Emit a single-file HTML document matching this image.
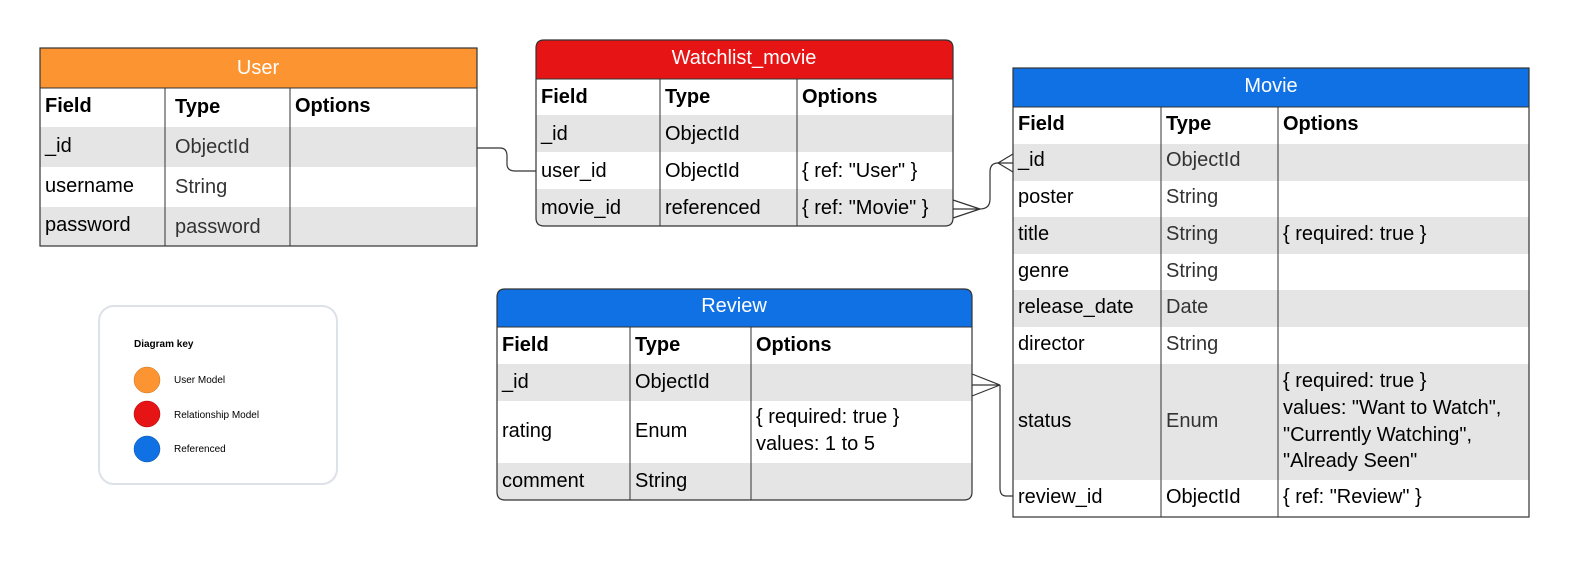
<!DOCTYPE html>
<html><head><meta charset="utf-8"><style>
html,body{margin:0;padding:0;background:#fff;}
svg text{font-family:"Liberation Sans",Arial,sans-serif;}
</style></head><body>
<svg width="1580" height="561" viewBox="0 0 1580 561" xmlns="http://www.w3.org/2000/svg">
<rect width="1580" height="561" fill="#fff"/>

<!-- USER -->
<g>
<rect x="40" y="48" width="437" height="40" fill="#FC9432"/>
<text x="258" y="74" font-size="20" fill="#fff" text-anchor="middle">User</text>
<rect x="40" y="127" width="437" height="40" fill="#E5E5E5"/>
<rect x="40" y="207" width="437" height="39" fill="#E5E5E5"/>
<rect x="40" y="48" width="437" height="198" fill="none" stroke="#333" stroke-width="1.2"/>
<line x1="40" y1="88" x2="477" y2="88" stroke="#333"/>
<line x1="165" y1="88" x2="165" y2="246" stroke="#333"/>
<line x1="290" y1="88" x2="290" y2="246" stroke="#333"/>
<g font-size="20" fill="#000">
<text x="45" y="112" font-weight="bold">Field</text>
<text x="175" y="113" font-weight="bold">Type</text>
<text x="295" y="112" font-weight="bold">Options</text>
<text x="45" y="152">_id</text>
<text x="45" y="192">username</text>
<text x="45" y="231">password</text>
</g>
<g font-size="20" fill="#333">
<text x="175" y="153">ObjectId</text>
<text x="175" y="193">String</text>
<text x="175" y="233">password</text>
</g>
</g>

<!-- WATCHLIST -->
<g>
<path d="M536,79 V48 Q536,40 544,40 H945 Q953,40 953,48 V79 Z" fill="#E61414"/>
<text x="744" y="64" font-size="20" fill="#fff" text-anchor="middle">Watchlist_movie</text>
<rect x="536" y="115" width="417" height="37" fill="#E5E5E5"/>
<path d="M536,189 H953 V218 Q953,226 945,226 H544 Q536,226 536,218 Z" fill="#E5E5E5"/>
<path d="M536,48 Q536,40 544,40 H945 Q953,40 953,48 V218 Q953,226 945,226 H544 Q536,226 536,218 Z" fill="none" stroke="#333" stroke-width="1.2"/>
<line x1="536" y1="79" x2="953" y2="79" stroke="#333"/>
<line x1="660" y1="79" x2="660" y2="226" stroke="#333"/>
<line x1="797" y1="79" x2="797" y2="226" stroke="#333"/>
<g font-size="20" fill="#000">
<text x="541" y="103" font-weight="bold">Field</text>
<text x="665" y="103" font-weight="bold">Type</text>
<text x="802" y="103" font-weight="bold">Options</text>
<text x="541" y="140">_id</text>
<text x="541" y="177">user_id</text>
<text x="541" y="214">movie_id</text>
<text x="665" y="140">ObjectId</text>
<text x="665" y="177">ObjectId</text>
<text x="665" y="214">referenced</text>
<text x="802" y="177">{ ref: "User" }</text>
<text x="802" y="214">{ ref: "Movie" }</text>
</g>
</g>

<!-- MOVIE -->
<g>
<rect x="1013" y="68" width="516" height="39" fill="#1071E5"/>
<text x="1271" y="92" font-size="20" fill="#fff" text-anchor="middle">Movie</text>
<rect x="1013" y="144" width="516" height="37" fill="#E5E5E5"/>
<rect x="1013" y="217" width="516" height="37" fill="#E5E5E5"/>
<rect x="1013" y="290" width="516" height="37" fill="#E5E5E5"/>
<rect x="1013" y="364" width="516" height="116" fill="#E5E5E5"/>
<rect x="1013" y="68" width="516" height="449" fill="none" stroke="#333" stroke-width="1.2"/>
<line x1="1013" y1="107" x2="1529" y2="107" stroke="#333"/>
<line x1="1161" y1="107" x2="1161" y2="517" stroke="#333"/>
<line x1="1278" y1="107" x2="1278" y2="517" stroke="#333"/>
<g font-size="20" fill="#000">
<text x="1018" y="130" font-weight="bold">Field</text>
<text x="1166" y="130" font-weight="bold">Type</text>
<text x="1283" y="130" font-weight="bold">Options</text>
<text x="1018" y="166">_id</text>
<text x="1018" y="203">poster</text>
<text x="1018" y="240">title</text>
<text x="1018" y="277">genre</text>
<text x="1018" y="313">release_date</text>
<text x="1018" y="350">director</text>
<text x="1018" y="427">status</text>
<text x="1018" y="503">review_id</text>
<text x="1283" y="240">{ required: true }</text>
<text x="1283" y="387">{ required: true }</text>
<text x="1283" y="414">values: "Want to Watch",</text>
<text x="1283" y="441">"Currently Watching",</text>
<text x="1283" y="467">"Already Seen"</text>
<text x="1283" y="503">{ ref: "Review" }</text>
<text x="1166" y="503">ObjectId</text>
</g>
<g font-size="20" fill="#333">
<text x="1166" y="166">ObjectId</text>
<text x="1166" y="203">String</text>
<text x="1166" y="240">String</text>
<text x="1166" y="277">String</text>
<text x="1166" y="313">Date</text>
<text x="1166" y="350">String</text>
<text x="1166" y="427">Enum</text>
</g>
</g>

<!-- REVIEW -->
<g>
<path d="M497,327 V297 Q497,289 505,289 H964 Q972,289 972,297 V327 Z" fill="#1071E5"/>
<text x="734" y="312" font-size="20" fill="#fff" text-anchor="middle">Review</text>
<rect x="497" y="364" width="475" height="37" fill="#E5E5E5"/>
<path d="M497,463 H972 V492 Q972,500 964,500 H505 Q497,500 497,492 Z" fill="#E5E5E5"/>
<path d="M497,297 Q497,289 505,289 H964 Q972,289 972,297 V492 Q972,500 964,500 H505 Q497,500 497,492 Z" fill="none" stroke="#333" stroke-width="1.2"/>
<line x1="497" y1="327" x2="972" y2="327" stroke="#333"/>
<line x1="630" y1="327" x2="630" y2="500" stroke="#333"/>
<line x1="751" y1="327" x2="751" y2="500" stroke="#333"/>
<g font-size="20" fill="#000">
<text x="502" y="351" font-weight="bold">Field</text>
<text x="635" y="351" font-weight="bold">Type</text>
<text x="756" y="351" font-weight="bold">Options</text>
<text x="502" y="388">_id</text>
<text x="502" y="437">rating</text>
<text x="502" y="487">comment</text>
<text x="635" y="388">ObjectId</text>
<text x="635" y="437">Enum</text>
<text x="635" y="487">String</text>
<text x="756" y="423">{ required: true }</text>
<text x="756" y="450">values: 1 to 5</text>
</g>
</g>

<!-- CONNECTORS -->
<g fill="none" stroke="#333" stroke-width="1.2">
<path d="M477,148 H500 Q507,148 507,156 V164 Q507,171 515,171 H536"/>
<path d="M953,200 L980,209 M953,209 H980 M953,218 L980,209"/>
<path d="M980,209 Q990,209 990,199 V172 Q990,163 998,163 H1013"/>
<path d="M998,163 L1013,154 M998,163 L1013,172"/>
<path d="M972,374 L1000,385 M972,385 H1000 M972,396 L1000,385"/>
<path d="M1000,385 V488 Q1000,496 1006,496 H1013"/>
</g>

<!-- KEY -->
<rect x="99" y="306" width="238" height="178" rx="15" fill="#fff" stroke="#DDE1E8" stroke-width="2"/>
<text x="134" y="347" font-size="10" font-weight="bold" fill="#000">Diagram key</text>
<circle cx="147" cy="380" r="13" fill="#FC9432" stroke="#c77020" stroke-width="0.5"/>
<circle cx="147" cy="414" r="13" fill="#E61414" stroke="#a00" stroke-width="0.5"/>
<circle cx="147" cy="449" r="13" fill="#1071E5" stroke="#0a4fa0" stroke-width="0.5"/>
<text x="174" y="383" font-size="10" fill="#000">User Model</text>
<text x="174" y="418" font-size="10" fill="#000">Relationship Model</text>
<text x="174" y="452" font-size="10" fill="#000">Referenced</text>
</svg>
</body></html>
